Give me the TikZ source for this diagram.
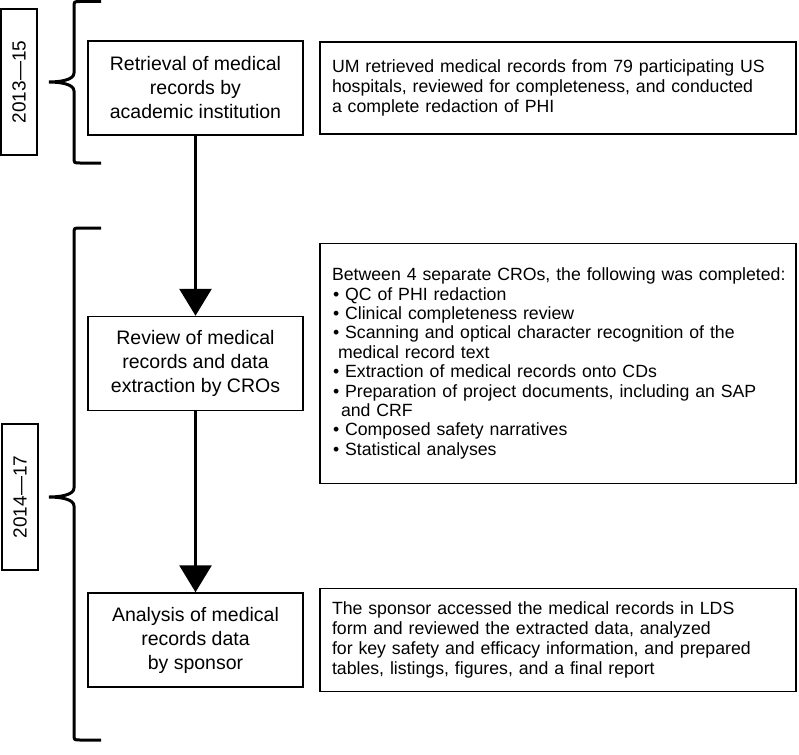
\documentclass[tikz,border=0pt]{standalone}
\usepackage{fontspec}
\setmainfont{Liberation Sans}
\usepackage{tikz}
\usetikzlibrary{positioning}
\usetikzlibrary{arrows.meta}
\tikzset{
block/.style = {draw, line width=1.5pt, rectangle, minimum width=215pt, minimum height=94pt, inner sep=0pt, align=center, font=\fontsize{19.5}{24}\selectfont},
note/.style = {draw, line width=1.5pt, rectangle, text width=452pt, inner xsep=12pt, inner ysep=0pt, align=left, font=\fontsize{17.7}{20}\selectfont},
period/.style = {draw, line width=1.5pt, rectangle, rotate=90, minimum width=146pt, minimum height=36pt, inner sep=0pt, font=\fontsize{19}{22}\selectfont},
flow/.style = {line width=3pt},
brace/.style = {line width=3pt}
}
% bracket with a point in the middle: top, middle, bottom
\newcommand{\timebrace}[3]{%
  \draw [brace] (101,#1) -- (80,#1) .. controls (74,#1) .. (74,#1+6) -- (74,#2-9)
    .. controls (74,#2-2) and (60,#2) .. (49,#2)
    .. controls (60,#2) and (74,#2+2) .. (74,#2+9) -- (74,#3-6)
    .. controls (74,#3) .. (80,#3) -- (101,#3);}

\begin{document}
\begin{tikzpicture}[x=1pt, y=-1pt, >={Triangle[length=27pt,width=32pt]}]
    \useasboundingbox (0,0) rectangle (799,754);
    % We start by placing the blocks
    \node at (195.5,88) [block] (retr) {Retrieval of medical\\records by\\academic institution};
    \node [block, below of=retr, node distance=275.5pt] (review) {Review of medical\\records and data\\extraction by CROs};
    \node [block, below of=review, node distance=276.5pt] (analysis) {Analysis of medical\\records data\\by sponsor};

    % the notes on the right
    \node [note, right of=retr, node distance=362.5pt, minimum height=92pt] (retrnote)
      {UM retrieved medical records from 79 participating US\\
       hospitals, reviewed for completeness, and conducted\\
       a complete redaction of PHI};
    \node [note, right of=review, node distance=362.5pt, minimum height=240pt,
      font=\fontsize{17.7}{19.4}\selectfont] (reviewnote)
      {\mbox{Between 4 separate CROs, the following was completed:}\\
       \hspace*{1pt}• QC of PHI redaction\\
       \hspace*{1pt}• Clinical completeness review\\
       \hspace*{1pt}• Scanning and optical character recognition of the\\
       \hspace*{6pt}medical record text\\
       \hspace*{1pt}• Extraction of medical records onto CDs\\
       \hspace*{1pt}• Preparation of project documents, including an SAP\\
       \hspace*{9pt}and CRF\\
       \hspace*{1pt}• Composed safety narratives\\
       \hspace*{1pt}• Statistical analyses};
    \node [note, right of=analysis, node distance=362.5pt, minimum height=103pt] (analysisnote)
      {The sponsor accessed the medical records in LDS\\
       form and reviewed the extracted data, analyzed\\
       for key safety and efficacy information, and prepared\\
       tables, listings, figures, and a final report};

    % time periods
    \node at (19,82) [period] (first) {2013—15};
    \node at (20,497) [period] (second) {2014—17};
    \timebrace{1.5}{82}{163}
    \timebrace{228}{497}{740}

    % connecting the blocks
    \draw [flow, ->] (retr) -- (review);
    \draw [flow, ->] (review) -- (analysis);
\end{tikzpicture}
\end{document}
